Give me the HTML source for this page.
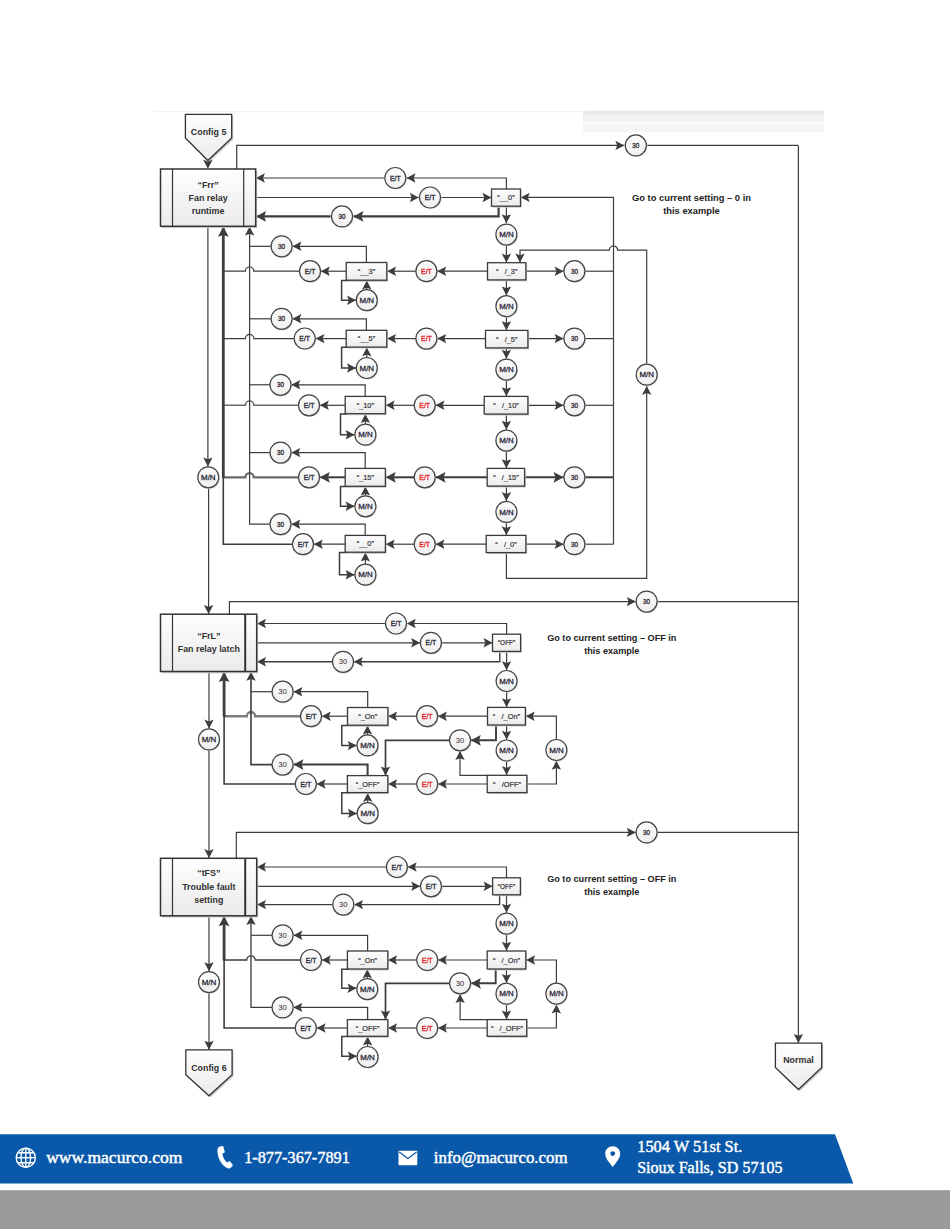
<!DOCTYPE html>
<html><head><meta charset="utf-8"><title>Config flow</title>
<style>
html,body{margin:0;padding:0;background:#fff;}
body{width:950px;height:1229px;overflow:hidden;font-family:"Liberation Sans",sans-serif;}
svg{display:block;font-family:"Liberation Sans",sans-serif;}
</style></head><body>
<svg width="950" height="1229" viewBox="0 0 950 1229">
<defs>
<linearGradient id="gb" x1="0" y1="0" x2="0" y2="1"><stop offset="0" stop-color="#fefefe"/><stop offset="1" stop-color="#ebebeb"/></linearGradient>
<linearGradient id="gc" x1="0" y1="0" x2="0" y2="1"><stop offset="0" stop-color="#fcfcfc"/><stop offset="1" stop-color="#efefef"/></linearGradient>
</defs>
<rect width="950" height="1229" fill="#fff"/>
<rect x="583" y="110.8" width="241" height="21.4" fill="#f5f5f5"/>
<rect x="583" y="110.8" width="241" height="4" fill="#e9e9e9"/>
<rect x="583" y="114.8" width="241" height="7.2" fill="#f3f3f3"/>
<rect x="583" y="122" width="241" height="2.5" fill="#fafafa"/>
<rect x="155" y="111" width="430" height="1.2" fill="#f3f3f3"/>
<path d="M798.4,145.4 L798.4,1043.0" fill="none" stroke="#3d3d3d" stroke-width="1.2" stroke-linejoin="miter"/>
<polygon points="798.4,1043.0 793.7,1034.0 798.4,1035.8 803.1,1034.0" fill="#3d3d3d"/>
<path d="M236.7,169.0 L236.7,145.4 L624.4,145.4" fill="none" stroke="#3d3d3d" stroke-width="1.2" stroke-linejoin="miter"/>
<polygon points="624.4,145.4 615.4,150.1 617.2,145.4 615.4,140.7" fill="#3d3d3d"/>
<path d="M647.2,145.4 L798.4,145.4" fill="none" stroke="#3d3d3d" stroke-width="1.2" stroke-linejoin="miter"/>
<path d="M506.4,189.0 L506.4,178.0 L406.5,178.0" fill="none" stroke="#3d3d3d" stroke-width="1.2" stroke-linejoin="miter"/>
<polygon points="406.5,178.0 415.5,173.3 413.7,178.0 415.5,182.7" fill="#3d3d3d"/>
<path d="M384.3,178.0 L255.9,178.0" fill="none" stroke="#3d3d3d" stroke-width="1.2" stroke-linejoin="miter"/>
<polygon points="255.9,178.0 264.9,173.3 263.1,178.0 264.9,182.7" fill="#3d3d3d"/>
<path d="M255.7,197.5 L418.8,197.5" fill="none" stroke="#3d3d3d" stroke-width="1.2" stroke-linejoin="miter"/>
<polygon points="418.8,197.5 409.8,202.2 411.6,197.5 409.8,192.8" fill="#3d3d3d"/>
<path d="M441.2,197.5 L491.5,197.5" fill="none" stroke="#3d3d3d" stroke-width="1.2" stroke-linejoin="miter"/>
<polygon points="491.5,197.5 482.5,202.2 484.3,197.5 482.5,192.8" fill="#3d3d3d"/>
<path d="M498.6,206.2 L498.6,216.4 L353.4,216.4" fill="none" stroke="#3d3d3d" stroke-width="2.2" stroke-linejoin="miter"/>
<polygon points="353.4,216.4 363.4,211.0 361.6,216.4 363.4,221.8" fill="#3d3d3d"/>
<path d="M330.6,216.4 L256.0,216.4" fill="none" stroke="#3d3d3d" stroke-width="2.2" stroke-linejoin="miter"/>
<polygon points="256.0,216.4 266.0,211.0 264.2,216.4 266.0,221.8" fill="#3d3d3d"/>
<path d="M613.5,544.2 L613.5,197.4 L520.7,197.4" fill="none" stroke="#3d3d3d" stroke-width="1.2" stroke-linejoin="miter"/>
<polygon points="520.7,197.4 529.7,192.7 527.9,197.4 529.7,202.1" fill="#3d3d3d"/>
<path d="M646.7,363.6 L646.7,250.2 L617.7,250.2 A4.2,4.2 0 0 0 609.3,250.2 L520.0,250.2 L520.0,262.5" fill="none" stroke="#3d3d3d" stroke-width="1.2" stroke-linejoin="miter"/>
<polygon points="520.0,262.5 515.3,253.5 520.0,255.3 524.7,253.5" fill="#3d3d3d"/>
<path d="M506.4,552.6 L506.4,578.3 L646.7,578.3 L646.7,385.9" fill="none" stroke="#3d3d3d" stroke-width="1.2" stroke-linejoin="miter"/>
<polygon points="646.7,385.9 651.4,394.9 646.7,393.1 642.0,394.9" fill="#3d3d3d"/>
<path d="M506.4,206.2 L506.4,223.2" fill="none" stroke="#3d3d3d" stroke-width="1.2" stroke-linejoin="miter"/>
<polygon points="506.4,223.2 501.7,214.2 506.4,216.0 511.1,214.2" fill="#3d3d3d"/>
<path d="M506.4,246.0 L506.4,262.6" fill="none" stroke="#3d3d3d" stroke-width="1.2" stroke-linejoin="miter"/>
<polygon points="506.4,262.6 501.7,253.6 506.4,255.4 511.1,253.6" fill="#3d3d3d"/>
<path d="M525.9,271.2 L563.6,271.2" fill="none" stroke="#3d3d3d" stroke-width="1.2" stroke-linejoin="miter"/>
<polygon points="563.6,271.2 554.6,275.9 556.4,271.2 554.6,266.5" fill="#3d3d3d"/>
<path d="M584.9,271.2 L613.5,271.2" fill="none" stroke="#3d3d3d" stroke-width="1.2" stroke-linejoin="miter"/>
<path d="M487.5,271.2 L437.2,271.2" fill="none" stroke="#3d3d3d" stroke-width="1.2" stroke-linejoin="miter"/>
<polygon points="437.2,271.2 446.2,266.5 444.4,271.2 446.2,275.9" fill="#3d3d3d"/>
<path d="M415.9,271.2 L387.1,271.2" fill="none" stroke="#3d3d3d" stroke-width="1.2" stroke-linejoin="miter"/>
<polygon points="387.1,271.2 396.1,266.5 394.3,271.2 396.1,275.9" fill="#3d3d3d"/>
<path d="M346.2,271.2 L320.8,271.2" fill="none" stroke="#3d3d3d" stroke-width="1.2" stroke-linejoin="miter"/>
<polygon points="320.8,271.2 329.8,266.5 328.0,271.2 329.8,275.9" fill="#3d3d3d"/>
<path d="M299.5,271.2 L253.8,271.2 A4.2,4.2 0 0 0 245.4,271.2 L223.3,271.2" fill="none" stroke="#3d3d3d" stroke-width="1.2" stroke-linejoin="miter"/>
<path d="M366.4,262.5 L366.4,246.3 L292.4,246.3" fill="none" stroke="#3d3d3d" stroke-width="1.2" stroke-linejoin="miter"/>
<polygon points="292.4,246.3 301.4,241.6 299.6,246.3 301.4,251.0" fill="#3d3d3d"/>
<path d="M271.1,246.3 L249.6,246.3" fill="none" stroke="#3d3d3d" stroke-width="1.2" stroke-linejoin="miter"/>
<path d="M386.8,280.4 L341.6,280.4 L341.6,300.2 L356.0,300.2" fill="none" stroke="#3d3d3d" stroke-width="1.5" stroke-linejoin="miter"/>
<polygon points="356.0,300.2 347.0,304.9 348.8,300.2 347.0,295.5" fill="#3d3d3d"/>
<path d="M366.8,289.7 L366.8,280.5" fill="none" stroke="#3d3d3d" stroke-width="1.2" stroke-linejoin="miter"/>
<polygon points="366.8,280.5 371.5,289.5 366.8,287.7 362.1,289.5" fill="#3d3d3d"/>
<path d="M527.9,338.6 L563.6,338.6" fill="none" stroke="#3d3d3d" stroke-width="1.2" stroke-linejoin="miter"/>
<polygon points="563.6,338.6 554.6,343.3 556.4,338.6 554.6,333.9" fill="#3d3d3d"/>
<path d="M584.9,338.6 L613.5,338.6" fill="none" stroke="#3d3d3d" stroke-width="1.2" stroke-linejoin="miter"/>
<path d="M485.5,338.6 L437.2,338.6" fill="none" stroke="#3d3d3d" stroke-width="1.2" stroke-linejoin="miter"/>
<polygon points="437.2,338.6 446.2,333.9 444.4,338.6 446.2,343.3" fill="#3d3d3d"/>
<path d="M415.9,338.6 L387.1,338.6" fill="none" stroke="#3d3d3d" stroke-width="1.2" stroke-linejoin="miter"/>
<polygon points="387.1,338.6 396.1,333.9 394.3,338.6 396.1,343.3" fill="#3d3d3d"/>
<path d="M346.2,338.6 L315.5,338.6" fill="none" stroke="#3d3d3d" stroke-width="1.2" stroke-linejoin="miter"/>
<polygon points="315.5,338.6 324.5,333.9 322.7,338.6 324.5,343.3" fill="#3d3d3d"/>
<path d="M294.2,338.6 L253.8,338.6 A4.2,4.2 0 0 0 245.4,338.6 L223.3,338.6" fill="none" stroke="#3d3d3d" stroke-width="1.2" stroke-linejoin="miter"/>
<path d="M366.4,330.3 L366.4,318.8 L292.4,318.8" fill="none" stroke="#3d3d3d" stroke-width="1.2" stroke-linejoin="miter"/>
<polygon points="292.4,318.8 301.4,314.1 299.6,318.8 301.4,323.5" fill="#3d3d3d"/>
<path d="M271.1,318.8 L249.6,318.8" fill="none" stroke="#3d3d3d" stroke-width="1.2" stroke-linejoin="miter"/>
<path d="M386.8,347.3 L341.6,347.3 L341.6,368.0 L356.0,368.0" fill="none" stroke="#3d3d3d" stroke-width="1.5" stroke-linejoin="miter"/>
<polygon points="356.0,368.0 347.0,372.7 348.8,368.0 347.0,363.3" fill="#3d3d3d"/>
<path d="M366.8,357.5 L366.8,347.4" fill="none" stroke="#3d3d3d" stroke-width="1.2" stroke-linejoin="miter"/>
<polygon points="366.8,347.4 371.5,356.4 366.8,354.6 362.1,356.4" fill="#3d3d3d"/>
<path d="M527.9,405.3 L563.6,405.3" fill="none" stroke="#3d3d3d" stroke-width="1.2" stroke-linejoin="miter"/>
<polygon points="563.6,405.3 554.6,410.0 556.4,405.3 554.6,400.6" fill="#3d3d3d"/>
<path d="M584.9,405.3 L613.5,405.3" fill="none" stroke="#3d3d3d" stroke-width="1.2" stroke-linejoin="miter"/>
<path d="M484.2,405.3 L435.5,405.3" fill="none" stroke="#3d3d3d" stroke-width="1.2" stroke-linejoin="miter"/>
<polygon points="435.5,405.3 444.5,400.6 442.7,405.3 444.5,410.0" fill="#3d3d3d"/>
<path d="M414.2,405.3 L385.7,405.3" fill="none" stroke="#3d3d3d" stroke-width="1.2" stroke-linejoin="miter"/>
<polygon points="385.7,405.3 394.7,400.6 392.9,405.3 394.7,410.0" fill="#3d3d3d"/>
<path d="M345.2,405.3 L319.8,405.3" fill="none" stroke="#3d3d3d" stroke-width="1.2" stroke-linejoin="miter"/>
<polygon points="319.8,405.3 328.8,400.6 327.0,405.3 328.8,410.0" fill="#3d3d3d"/>
<path d="M298.5,405.3 L253.8,405.3 A4.2,4.2 0 0 0 245.4,405.3 L223.3,405.3" fill="none" stroke="#6a6a6a" stroke-width="1.5" stroke-linejoin="miter"/>
<path d="M365.2,396.4 L365.2,384.8 L291.3,384.8" fill="none" stroke="#3d3d3d" stroke-width="1.2" stroke-linejoin="miter"/>
<polygon points="291.3,384.8 300.3,380.1 298.5,384.8 300.3,389.5" fill="#3d3d3d"/>
<path d="M270.0,384.8 L249.6,384.8" fill="none" stroke="#3d3d3d" stroke-width="1.2" stroke-linejoin="miter"/>
<path d="M385.4,413.9 L340.5,413.9 L340.5,434.7 L354.6,434.7" fill="none" stroke="#3d3d3d" stroke-width="1.5" stroke-linejoin="miter"/>
<polygon points="354.6,434.7 345.6,439.4 347.4,434.7 345.6,430.0" fill="#3d3d3d"/>
<path d="M365.4,424.2 L365.4,414.0" fill="none" stroke="#3d3d3d" stroke-width="1.2" stroke-linejoin="miter"/>
<polygon points="365.4,414.0 370.1,423.0 365.4,421.2 360.7,423.0" fill="#3d3d3d"/>
<path d="M524.6,477.3 L563.6,477.3" fill="none" stroke="#3d3d3d" stroke-width="2.0" stroke-linejoin="miter"/>
<polygon points="563.6,477.3 553.6,482.7 555.4,477.3 553.6,471.9" fill="#3d3d3d"/>
<path d="M584.9,477.3 L613.5,477.3" fill="none" stroke="#3d3d3d" stroke-width="2.0" stroke-linejoin="miter"/>
<path d="M487.2,477.3 L435.5,477.3" fill="none" stroke="#3d3d3d" stroke-width="2.0" stroke-linejoin="miter"/>
<polygon points="435.5,477.3 445.5,471.9 443.7,477.3 445.5,482.7" fill="#3d3d3d"/>
<path d="M414.2,477.3 L385.7,477.3" fill="none" stroke="#3d3d3d" stroke-width="2.0" stroke-linejoin="miter"/>
<polygon points="385.7,477.3 395.7,471.9 393.9,477.3 395.7,482.7" fill="#3d3d3d"/>
<path d="M345.2,477.3 L319.8,477.3" fill="none" stroke="#3d3d3d" stroke-width="2.0" stroke-linejoin="miter"/>
<polygon points="319.8,477.3 329.8,471.9 328.0,477.3 329.8,482.7" fill="#3d3d3d"/>
<path d="M298.5,477.3 L253.8,477.3 A4.2,4.2 0 0 0 245.4,477.3 L223.3,477.3" fill="none" stroke="#6a6a6a" stroke-width="2.2" stroke-linejoin="miter"/>
<path d="M365.2,468.4 L365.2,452.6 L291.3,452.6" fill="none" stroke="#3d3d3d" stroke-width="1.2" stroke-linejoin="miter"/>
<polygon points="291.3,452.6 300.3,447.9 298.5,452.6 300.3,457.3" fill="#3d3d3d"/>
<path d="M270.0,452.6 L249.6,452.6" fill="none" stroke="#3d3d3d" stroke-width="1.2" stroke-linejoin="miter"/>
<path d="M385.4,486.5 L340.5,486.5 L340.5,506.3 L354.6,506.3" fill="none" stroke="#3d3d3d" stroke-width="1.5" stroke-linejoin="miter"/>
<polygon points="354.6,506.3 345.6,511.0 347.4,506.3 345.6,501.6" fill="#3d3d3d"/>
<path d="M365.4,495.8 L365.4,486.6" fill="none" stroke="#3d3d3d" stroke-width="1.2" stroke-linejoin="miter"/>
<polygon points="365.4,486.6 370.1,495.6 365.4,493.8 360.7,495.6" fill="#3d3d3d"/>
<path d="M525.9,544.2 L563.6,544.2" fill="none" stroke="#3d3d3d" stroke-width="1.2" stroke-linejoin="miter"/>
<polygon points="563.6,544.2 554.6,548.9 556.4,544.2 554.6,539.5" fill="#3d3d3d"/>
<path d="M584.9,544.2 L613.5,544.2" fill="none" stroke="#3d3d3d" stroke-width="1.2" stroke-linejoin="miter"/>
<path d="M486.2,544.2 L435.5,544.2" fill="none" stroke="#3d3d3d" stroke-width="1.2" stroke-linejoin="miter"/>
<polygon points="435.5,544.2 444.5,539.5 442.7,544.2 444.5,548.9" fill="#3d3d3d"/>
<path d="M414.2,544.2 L385.7,544.2" fill="none" stroke="#3d3d3d" stroke-width="1.2" stroke-linejoin="miter"/>
<polygon points="385.7,544.2 394.7,539.5 392.9,544.2 394.7,548.9" fill="#3d3d3d"/>
<path d="M345.2,544.2 L313.8,544.2" fill="none" stroke="#3d3d3d" stroke-width="1.2" stroke-linejoin="miter"/>
<polygon points="313.8,544.2 322.8,539.5 321.0,544.2 322.8,548.9" fill="#3d3d3d"/>
<path d="M365.2,535.4 L365.2,524.2 L291.3,524.2" fill="none" stroke="#3d3d3d" stroke-width="1.2" stroke-linejoin="miter"/>
<polygon points="291.3,524.2 300.3,519.5 298.5,524.2 300.3,528.9" fill="#3d3d3d"/>
<path d="M385.4,552.4 L339.5,552.4 L339.5,574.7 L354.6,574.7" fill="none" stroke="#3d3d3d" stroke-width="1.5" stroke-linejoin="miter"/>
<polygon points="354.6,574.7 345.6,579.4 347.4,574.7 345.6,570.0" fill="#3d3d3d"/>
<path d="M365.4,564.2 L365.4,552.5" fill="none" stroke="#3d3d3d" stroke-width="1.2" stroke-linejoin="miter"/>
<polygon points="365.4,552.5 370.1,561.5 365.4,559.7 360.7,561.5" fill="#3d3d3d"/>
<path d="M506.4,279.9 L506.4,295.4" fill="none" stroke="#3d3d3d" stroke-width="1.2" stroke-linejoin="miter"/>
<polygon points="506.4,295.4 501.7,286.4 506.4,288.2 511.1,286.4" fill="#3d3d3d"/>
<path d="M506.4,316.7 L506.4,330.2" fill="none" stroke="#3d3d3d" stroke-width="1.2" stroke-linejoin="miter"/>
<polygon points="506.4,330.2 501.7,321.2 506.4,323.0 511.1,321.2" fill="#3d3d3d"/>
<path d="M506.4,347.9 L506.4,358.8" fill="none" stroke="#3d3d3d" stroke-width="1.2" stroke-linejoin="miter"/>
<polygon points="506.4,358.8 501.7,349.8 506.4,351.6 511.1,349.8" fill="#3d3d3d"/>
<path d="M506.4,380.1 L506.4,396.2" fill="none" stroke="#3d3d3d" stroke-width="1.2" stroke-linejoin="miter"/>
<polygon points="506.4,396.2 501.7,387.2 506.4,389.0 511.1,387.2" fill="#3d3d3d"/>
<path d="M506.4,414.1 L506.4,429.8" fill="none" stroke="#3d3d3d" stroke-width="1.2" stroke-linejoin="miter"/>
<polygon points="506.4,429.8 501.7,420.8 506.4,422.6 511.1,420.8" fill="#3d3d3d"/>
<path d="M506.4,451.1 L506.4,468.2" fill="none" stroke="#3d3d3d" stroke-width="1.2" stroke-linejoin="miter"/>
<polygon points="506.4,468.2 501.7,459.2 506.4,461.0 511.1,459.2" fill="#3d3d3d"/>
<path d="M506.4,486.1 L506.4,501.1" fill="none" stroke="#3d3d3d" stroke-width="1.2" stroke-linejoin="miter"/>
<polygon points="506.4,501.1 501.7,492.1 506.4,493.9 511.1,492.1" fill="#3d3d3d"/>
<path d="M506.4,522.4 L506.4,535.2" fill="none" stroke="#3d3d3d" stroke-width="1.2" stroke-linejoin="miter"/>
<polygon points="506.4,535.2 501.7,526.2 506.4,528.0 511.1,526.2" fill="#3d3d3d"/>
<path d="M270.0,524.2 L249.6,524.2 L249.6,226.6" fill="none" stroke="#3d3d3d" stroke-width="1.2" stroke-linejoin="miter"/>
<polygon points="249.6,226.6 254.3,235.6 249.6,233.8 244.9,235.6" fill="#3d3d3d"/>
<path d="M292.5,544.2 L223.3,544.2 L223.3,477.3" fill="none" stroke="#3d3d3d" stroke-width="1.6" stroke-linejoin="miter"/>
<path d="M223.3,478.0 L223.3,226.8" fill="none" stroke="#3d3d3d" stroke-width="2.8" stroke-linejoin="miter"/>
<polygon points="223.3,226.8 228.7,236.8 223.3,235.0 217.9,236.8" fill="#3d3d3d"/>
<path d="M207.9,226.3 L207.9,466.5" fill="none" stroke="#3d3d3d" stroke-width="1.2" stroke-linejoin="miter"/>
<polygon points="207.9,466.5 203.2,457.5 207.9,459.3 212.6,457.5" fill="#3d3d3d"/>
<path d="M208.6,487.8 L208.6,614.0" fill="none" stroke="#3d3d3d" stroke-width="1.2" stroke-linejoin="miter"/>
<polygon points="208.6,614.0 203.9,605.0 208.6,606.8 213.3,605.0" fill="#3d3d3d"/>
<path d="M229.4,614.2 L229.4,601.6 L635.8,601.6" fill="none" stroke="#3d3d3d" stroke-width="1.2" stroke-linejoin="miter"/>
<polygon points="635.8,601.6 626.8,606.3 628.6,601.6 626.8,596.9" fill="#3d3d3d"/>
<path d="M657.1,601.6 L798.4,601.6" fill="none" stroke="#3d3d3d" stroke-width="1.2" stroke-linejoin="miter"/>
<path d="M506.6,634.2 L506.6,623.5 L406.8,623.5" fill="none" stroke="#3d3d3d" stroke-width="1.2" stroke-linejoin="miter"/>
<polygon points="406.8,623.5 415.8,618.8 414.0,623.5 415.8,628.2" fill="#3d3d3d"/>
<path d="M385.5,623.5 L257.0,623.5" fill="none" stroke="#3d3d3d" stroke-width="1.2" stroke-linejoin="miter"/>
<polygon points="257.0,623.5 266.0,618.8 264.2,623.5 266.0,628.2" fill="#3d3d3d"/>
<path d="M256.7,642.8 L420.1,642.8" fill="none" stroke="#3d3d3d" stroke-width="1.2" stroke-linejoin="miter"/>
<polygon points="420.1,642.8 411.1,647.5 412.9,642.8 411.1,638.1" fill="#3d3d3d"/>
<path d="M441.4,642.8 L492.5,642.8" fill="none" stroke="#3d3d3d" stroke-width="1.2" stroke-linejoin="miter"/>
<polygon points="492.5,642.8 483.5,647.5 485.3,642.8 483.5,638.1" fill="#3d3d3d"/>
<path d="M499.8,651.4 L499.8,661.8 L353.8,661.8" fill="none" stroke="#3d3d3d" stroke-width="1.4" stroke-linejoin="miter"/>
<polygon points="353.8,661.8 362.8,657.1 361.0,661.8 362.8,666.5" fill="#3d3d3d"/>
<path d="M332.5,661.8 L257.0,661.8" fill="none" stroke="#3d3d3d" stroke-width="1.4" stroke-linejoin="miter"/>
<polygon points="257.0,661.8 266.0,657.1 264.2,661.8 266.0,666.5" fill="#3d3d3d"/>
<path d="M506.6,651.4 L506.6,670.2" fill="none" stroke="#3d3d3d" stroke-width="1.2" stroke-linejoin="miter"/>
<polygon points="506.6,670.2 501.9,661.2 506.6,663.0 511.2,661.2" fill="#3d3d3d"/>
<path d="M506.6,691.5 L506.6,707.2" fill="none" stroke="#3d3d3d" stroke-width="1.2" stroke-linejoin="miter"/>
<polygon points="506.6,707.2 501.9,698.2 506.6,700.0 511.2,698.2" fill="#3d3d3d"/>
<path d="M506.6,725.0 L506.6,739.7" fill="none" stroke="#3d3d3d" stroke-width="1.2" stroke-linejoin="miter"/>
<polygon points="506.6,739.7 501.9,730.7 506.6,732.5 511.2,730.7" fill="#3d3d3d"/>
<path d="M506.6,761.0 L506.6,775.1" fill="none" stroke="#3d3d3d" stroke-width="1.2" stroke-linejoin="miter"/>
<polygon points="506.6,775.1 501.9,766.1 506.6,767.9 511.2,766.1" fill="#3d3d3d"/>
<path d="M526.9,784.0 L556.4,784.0 L556.4,760.8" fill="none" stroke="#3d3d3d" stroke-width="1.2" stroke-linejoin="miter"/>
<polygon points="556.4,760.8 561.1,769.8 556.4,768.0 551.7,769.8" fill="#3d3d3d"/>
<path d="M556.4,739.5 L556.4,716.2 L525.7,716.2" fill="none" stroke="#3d3d3d" stroke-width="1.2" stroke-linejoin="miter"/>
<polygon points="525.7,716.2 534.7,711.5 532.9,716.2 534.7,720.9" fill="#3d3d3d"/>
<path d="M496.0,725.0 L496.0,740.3 L470.8,740.3" fill="none" stroke="#3d3d3d" stroke-width="1.9" stroke-linejoin="miter"/>
<polygon points="470.8,740.3 480.8,734.9 479.0,740.3 480.8,745.7" fill="#3d3d3d"/>
<path d="M487.2,775.3 L460.0,775.3 L460.0,751.1" fill="none" stroke="#3d3d3d" stroke-width="1.2" stroke-linejoin="miter"/>
<polygon points="460.0,751.1 464.7,760.1 460.0,758.3 455.3,760.1" fill="#3d3d3d"/>
<path d="M449.5,740.3 L385.5,740.3 L385.5,775.4" fill="none" stroke="#3d3d3d" stroke-width="1.7" stroke-linejoin="miter"/>
<polygon points="385.5,775.4 380.8,766.4 385.5,768.2 390.2,766.4" fill="#3d3d3d"/>
<path d="M487.5,716.2 L437.9,716.2" fill="none" stroke="#3d3d3d" stroke-width="1.2" stroke-linejoin="miter"/>
<polygon points="437.9,716.2 446.9,711.5 445.1,716.2 446.9,720.9" fill="#3d3d3d"/>
<path d="M416.6,716.2 L388.2,716.2" fill="none" stroke="#3d3d3d" stroke-width="1.2" stroke-linejoin="miter"/>
<polygon points="388.2,716.2 397.2,711.5 395.4,716.2 397.2,720.9" fill="#3d3d3d"/>
<path d="M347.5,716.2 L321.8,716.2" fill="none" stroke="#3d3d3d" stroke-width="1.2" stroke-linejoin="miter"/>
<polygon points="321.8,716.2 330.8,711.5 329.0,716.2 330.8,720.9" fill="#3d3d3d"/>
<path d="M367.7,707.5 L367.7,691.7 L293.4,691.7" fill="none" stroke="#3d3d3d" stroke-width="1.2" stroke-linejoin="miter"/>
<polygon points="293.4,691.7 302.4,687.0 300.6,691.7 302.4,696.4" fill="#3d3d3d"/>
<path d="M300.5,716.2 L255.2,716.2 A4.2,4.2 0 0 0 246.8,716.2 L224.1,716.2" fill="none" stroke="#7d7d7d" stroke-width="2.4" stroke-linejoin="miter"/>
<path d="M272.1,691.7 L251.0,691.7" fill="none" stroke="#3d3d3d" stroke-width="1.2" stroke-linejoin="miter"/>
<path d="M387.9,725.4 L341.8,725.4 L341.8,745.6 L356.7,745.6" fill="none" stroke="#3d3d3d" stroke-width="1.5" stroke-linejoin="miter"/>
<polygon points="356.7,745.6 347.7,750.3 349.5,745.6 347.7,740.9" fill="#3d3d3d"/>
<path d="M367.5,734.9 L367.5,725.5" fill="none" stroke="#3d3d3d" stroke-width="1.2" stroke-linejoin="miter"/>
<polygon points="367.5,725.5 372.2,734.5 367.5,732.7 362.8,734.5" fill="#3d3d3d"/>
<path d="M487.2,784.0 L438.0,784.0" fill="none" stroke="#3d3d3d" stroke-width="1.2" stroke-linejoin="miter"/>
<polygon points="438.0,784.0 447.0,779.2 445.2,784.0 447.0,788.7" fill="#3d3d3d"/>
<path d="M416.7,784.0 L388.1,784.0" fill="none" stroke="#3d3d3d" stroke-width="1.2" stroke-linejoin="miter"/>
<polygon points="388.1,784.0 397.1,779.2 395.3,784.0 397.1,788.7" fill="#3d3d3d"/>
<path d="M347.4,784.0 L316.6,784.0" fill="none" stroke="#3d3d3d" stroke-width="1.2" stroke-linejoin="miter"/>
<polygon points="316.6,784.0 325.6,779.2 323.8,784.0 325.6,788.7" fill="#3d3d3d"/>
<path d="M367.6,775.6 L367.6,764.6 L293.4,764.6" fill="none" stroke="#3d3d3d" stroke-width="2.0" stroke-linejoin="miter"/>
<polygon points="293.4,764.6 303.4,759.2 301.6,764.6 303.4,770.0" fill="#3d3d3d"/>
<path d="M295.3,784.0 L224.1,784.0 L224.1,716.2" fill="none" stroke="#3d3d3d" stroke-width="1.6" stroke-linejoin="miter"/>
<path d="M224.1,716.7 L224.1,672.0" fill="none" stroke="#3d3d3d" stroke-width="2.8" stroke-linejoin="miter"/>
<polygon points="224.1,672.0 229.5,682.0 224.1,680.2 218.7,682.0" fill="#3d3d3d"/>
<path d="M272.1,764.6 L251.0,764.6 L251.0,671.8" fill="none" stroke="#3d3d3d" stroke-width="1.6" stroke-linejoin="miter"/>
<polygon points="251.0,671.8 255.7,680.8 251.0,679.0 246.3,680.8" fill="#3d3d3d"/>
<path d="M387.8,792.8 L341.8,792.8 L341.8,813.4 L356.9,813.4" fill="none" stroke="#3d3d3d" stroke-width="1.5" stroke-linejoin="miter"/>
<polygon points="356.9,813.4 347.9,818.1 349.7,813.4 347.9,808.7" fill="#3d3d3d"/>
<path d="M367.7,802.7 L367.7,792.9" fill="none" stroke="#3d3d3d" stroke-width="1.2" stroke-linejoin="miter"/>
<polygon points="367.7,792.9 372.4,801.9 367.7,800.1 363.0,801.9" fill="#3d3d3d"/>
<path d="M209.0,671.5 L209.0,728.6" fill="none" stroke="#3d3d3d" stroke-width="1.2" stroke-linejoin="miter"/>
<polygon points="209.0,728.6 204.3,719.6 209.0,721.4 213.7,719.6" fill="#3d3d3d"/>
<path d="M209.0,749.9 L209.0,858.1" fill="none" stroke="#3d3d3d" stroke-width="1.2" stroke-linejoin="miter"/>
<polygon points="209.0,858.1 204.3,849.1 209.0,850.9 213.7,849.1" fill="#3d3d3d"/>
<path d="M236.3,858.3 L236.3,832.4 L635.8,832.4" fill="none" stroke="#3d3d3d" stroke-width="1.2" stroke-linejoin="miter"/>
<polygon points="635.8,832.4 626.8,837.1 628.6,832.4 626.8,827.7" fill="#3d3d3d"/>
<path d="M657.1,832.4 L798.4,832.4" fill="none" stroke="#3d3d3d" stroke-width="1.2" stroke-linejoin="miter"/>
<path d="M506.5,877.8 L506.5,867.0 L407.7,867.0" fill="none" stroke="#3d3d3d" stroke-width="1.2" stroke-linejoin="miter"/>
<polygon points="407.7,867.0 416.7,862.3 414.9,867.0 416.7,871.7" fill="#3d3d3d"/>
<path d="M386.4,867.0 L257.0,867.0" fill="none" stroke="#3d3d3d" stroke-width="1.2" stroke-linejoin="miter"/>
<polygon points="257.0,867.0 266.0,862.3 264.2,867.0 266.0,871.7" fill="#3d3d3d"/>
<path d="M256.7,886.3 L420.2,886.3" fill="none" stroke="#3d3d3d" stroke-width="1.2" stroke-linejoin="miter"/>
<polygon points="420.2,886.3 411.2,891.0 413.0,886.3 411.2,881.6" fill="#3d3d3d"/>
<path d="M441.5,886.3 L492.6,886.3" fill="none" stroke="#3d3d3d" stroke-width="1.2" stroke-linejoin="miter"/>
<polygon points="492.6,886.3 483.6,891.0 485.4,886.3 483.6,881.6" fill="#3d3d3d"/>
<path d="M499.6,894.8 L499.6,904.6 L354.1,904.6" fill="none" stroke="#3d3d3d" stroke-width="1.4" stroke-linejoin="miter"/>
<polygon points="354.1,904.6 363.1,899.9 361.3,904.6 363.1,909.3" fill="#3d3d3d"/>
<path d="M332.8,904.6 L257.0,904.6" fill="none" stroke="#3d3d3d" stroke-width="1.4" stroke-linejoin="miter"/>
<polygon points="257.0,904.6 266.0,899.9 264.2,904.6 266.0,909.3" fill="#3d3d3d"/>
<path d="M506.5,894.8 L506.5,912.8" fill="none" stroke="#3d3d3d" stroke-width="1.2" stroke-linejoin="miter"/>
<polygon points="506.5,912.8 501.8,903.8 506.5,905.6 511.2,903.8" fill="#3d3d3d"/>
<path d="M506.5,934.1 L506.5,950.8" fill="none" stroke="#3d3d3d" stroke-width="1.2" stroke-linejoin="miter"/>
<polygon points="506.5,950.8 501.8,941.8 506.5,943.6 511.2,941.8" fill="#3d3d3d"/>
<path d="M506.5,969.0 L506.5,982.9" fill="none" stroke="#3d3d3d" stroke-width="1.2" stroke-linejoin="miter"/>
<polygon points="506.5,982.9 501.8,973.9 506.5,975.7 511.2,973.9" fill="#3d3d3d"/>
<path d="M506.5,1004.2 L506.5,1019.4" fill="none" stroke="#3d3d3d" stroke-width="1.2" stroke-linejoin="miter"/>
<polygon points="506.5,1019.4 501.8,1010.4 506.5,1012.2 511.2,1010.4" fill="#3d3d3d"/>
<path d="M526.7,1028.0 L556.4,1028.0 L556.4,1004.5" fill="none" stroke="#3d3d3d" stroke-width="1.2" stroke-linejoin="miter"/>
<polygon points="556.4,1004.5 561.1,1013.5 556.4,1011.7 551.7,1013.5" fill="#3d3d3d"/>
<path d="M556.4,983.2 L556.4,960.0 L526.1,960.0" fill="none" stroke="#3d3d3d" stroke-width="1.2" stroke-linejoin="miter"/>
<polygon points="526.1,960.0 535.1,955.3 533.3,960.0 535.1,964.7" fill="#3d3d3d"/>
<path d="M495.7,969.0 L495.7,983.3 L470.9,983.3" fill="none" stroke="#3d3d3d" stroke-width="1.9" stroke-linejoin="miter"/>
<polygon points="470.9,983.3 480.9,977.9 479.1,983.3 480.9,988.7" fill="#3d3d3d"/>
<path d="M487.2,1019.6 L460.1,1019.6 L460.1,994.1" fill="none" stroke="#3d3d3d" stroke-width="1.2" stroke-linejoin="miter"/>
<polygon points="460.1,994.1 464.8,1003.1 460.1,1001.3 455.4,1003.1" fill="#3d3d3d"/>
<path d="M449.6,983.3 L385.5,983.3 L385.5,1019.4" fill="none" stroke="#3d3d3d" stroke-width="1.7" stroke-linejoin="miter"/>
<polygon points="385.5,1019.4 380.8,1010.4 385.5,1012.2 390.2,1010.4" fill="#3d3d3d"/>
<path d="M487.2,960.0 L438.0,960.0" fill="none" stroke="#3d3d3d" stroke-width="1.2" stroke-linejoin="miter"/>
<polygon points="438.0,960.0 447.0,955.3 445.2,960.0 447.0,964.7" fill="#3d3d3d"/>
<path d="M416.7,960.0 L388.1,960.0" fill="none" stroke="#3d3d3d" stroke-width="1.2" stroke-linejoin="miter"/>
<polygon points="388.1,960.0 397.1,955.3 395.3,960.0 397.1,964.7" fill="#3d3d3d"/>
<path d="M347.4,960.0 L321.8,960.0" fill="none" stroke="#3d3d3d" stroke-width="1.2" stroke-linejoin="miter"/>
<polygon points="321.8,960.0 330.8,955.3 329.0,960.0 330.8,964.7" fill="#3d3d3d"/>
<path d="M367.6,951.0 L367.6,935.3 L293.4,935.3" fill="none" stroke="#3d3d3d" stroke-width="1.2" stroke-linejoin="miter"/>
<polygon points="293.4,935.3 302.4,930.6 300.6,935.3 302.4,940.0" fill="#3d3d3d"/>
<path d="M300.5,960.0 L255.2,960.0 A4.2,4.2 0 0 0 246.8,960.0 L224.1,960.0" fill="none" stroke="#3d3d3d" stroke-width="1.3" stroke-linejoin="miter"/>
<path d="M272.1,935.3 L251.0,935.3" fill="none" stroke="#3d3d3d" stroke-width="1.2" stroke-linejoin="miter"/>
<path d="M387.8,969.2 L341.8,969.2 L341.8,988.3 L356.5,988.3" fill="none" stroke="#3d3d3d" stroke-width="1.5" stroke-linejoin="miter"/>
<polygon points="356.5,988.3 347.5,993.0 349.3,988.3 347.5,983.6" fill="#3d3d3d"/>
<path d="M367.3,978.6 L367.3,969.3" fill="none" stroke="#3d3d3d" stroke-width="1.2" stroke-linejoin="miter"/>
<polygon points="367.3,969.3 372.0,978.3 367.3,976.5 362.6,978.3" fill="#3d3d3d"/>
<path d="M487.2,1028.0 L438.0,1028.0" fill="none" stroke="#3d3d3d" stroke-width="1.2" stroke-linejoin="miter"/>
<polygon points="438.0,1028.0 447.0,1023.2 445.2,1028.0 447.0,1032.7" fill="#3d3d3d"/>
<path d="M416.7,1028.0 L388.1,1028.0" fill="none" stroke="#3d3d3d" stroke-width="1.2" stroke-linejoin="miter"/>
<polygon points="388.1,1028.0 397.1,1023.2 395.3,1028.0 397.1,1032.7" fill="#3d3d3d"/>
<path d="M347.4,1028.0 L316.6,1028.0" fill="none" stroke="#3d3d3d" stroke-width="1.2" stroke-linejoin="miter"/>
<polygon points="316.6,1028.0 325.6,1023.2 323.8,1028.0 325.6,1032.7" fill="#3d3d3d"/>
<path d="M367.6,1019.6 L367.6,1007.4 L293.4,1007.4" fill="none" stroke="#3d3d3d" stroke-width="1.3" stroke-linejoin="miter"/>
<polygon points="293.4,1007.4 302.4,1002.7 300.6,1007.4 302.4,1012.1" fill="#3d3d3d"/>
<path d="M295.3,1028.0 L224.1,1028.0 L224.1,960.0" fill="none" stroke="#3d3d3d" stroke-width="1.6" stroke-linejoin="miter"/>
<path d="M224.1,960.5 L224.1,916.3" fill="none" stroke="#3d3d3d" stroke-width="2.8" stroke-linejoin="miter"/>
<polygon points="224.1,916.3 229.5,926.3 224.1,924.5 218.7,926.3" fill="#3d3d3d"/>
<path d="M272.1,1007.4 L251.0,1007.4 L251.0,916.1" fill="none" stroke="#3d3d3d" stroke-width="1.3" stroke-linejoin="miter"/>
<polygon points="251.0,916.1 255.7,925.1 251.0,923.3 246.3,925.1" fill="#3d3d3d"/>
<path d="M387.8,1036.5 L341.8,1036.5 L341.8,1056.2 L356.8,1056.2" fill="none" stroke="#3d3d3d" stroke-width="1.5" stroke-linejoin="miter"/>
<polygon points="356.8,1056.2 347.8,1060.9 349.6,1056.2 347.8,1051.5" fill="#3d3d3d"/>
<path d="M367.6,1046.5 L367.6,1036.6" fill="none" stroke="#3d3d3d" stroke-width="1.2" stroke-linejoin="miter"/>
<polygon points="367.6,1036.6 372.3,1045.6 367.6,1043.8 362.9,1045.6" fill="#3d3d3d"/>
<path d="M209.0,915.8 L209.0,971.3" fill="none" stroke="#3d3d3d" stroke-width="1.2" stroke-linejoin="miter"/>
<polygon points="209.0,971.3 204.3,962.3 209.0,964.1 213.7,962.3" fill="#3d3d3d"/>
<path d="M209.0,992.6 L209.0,1049.7" fill="none" stroke="#3d3d3d" stroke-width="1.2" stroke-linejoin="miter"/>
<polygon points="209.0,1049.7 204.3,1040.7 209.0,1042.5 213.7,1040.7" fill="#3d3d3d"/>
<rect x="162.0" y="170.8" width="95.2" height="57.3" fill="#cfcfcf"/>
<rect x="160.5" y="169.0" width="95.2" height="57.3" fill="url(#gb)" stroke="#333" stroke-width="1.5"/>
<line x1="172.5" y1="169.0" x2="172.5" y2="226.3" stroke="#333" stroke-width="1.2"/>
<line x1="243.7" y1="169.0" x2="243.7" y2="226.3" stroke="#333" stroke-width="1.2"/>
<text x="208.1" y="188.3" font-size="8.9" font-weight="bold" fill="#303030" text-anchor="middle">&#8220;Frr&#8221;</text>
<text x="208.1" y="201.2" font-size="8.9" font-weight="bold" fill="#303030" text-anchor="middle">Fan relay</text>
<text x="208.1" y="214.0" font-size="8.9" font-weight="bold" fill="#303030" text-anchor="middle">runtime</text>
<rect x="162.0" y="616.0" width="96.2" height="57.3" fill="#cfcfcf"/>
<rect x="160.5" y="614.2" width="96.2" height="57.3" fill="url(#gb)" stroke="#333" stroke-width="1.5"/>
<line x1="172.5" y1="614.2" x2="172.5" y2="671.5" stroke="#333" stroke-width="1.2"/>
<line x1="245.2" y1="614.2" x2="245.2" y2="671.5" stroke="#333" stroke-width="2"/>
<text x="208.8" y="638.6" font-size="8.9" font-weight="bold" fill="#303030" text-anchor="middle">&#8220;FrL&#8221;</text>
<text x="208.8" y="651.8" font-size="8.9" font-weight="bold" fill="#303030" text-anchor="middle">Fan relay latch</text>
<rect x="162.0" y="860.1" width="96.2" height="57.5" fill="#cfcfcf"/>
<rect x="160.5" y="858.3" width="96.2" height="57.5" fill="url(#gb)" stroke="#333" stroke-width="1.5"/>
<line x1="172.5" y1="858.3" x2="172.5" y2="915.8" stroke="#333" stroke-width="1.2"/>
<line x1="245.2" y1="858.3" x2="245.2" y2="915.8" stroke="#333" stroke-width="2"/>
<text x="208.8" y="876.2" font-size="8.9" font-weight="bold" fill="#303030" text-anchor="middle">&#8220;tFS&#8221;</text>
<text x="208.8" y="889.6" font-size="8.9" font-weight="bold" fill="#303030" text-anchor="middle">Trouble fault</text>
<text x="208.8" y="902.6" font-size="8.9" font-weight="bold" fill="#303030" text-anchor="middle">setting</text>
<polygon points="185.4,114.3 231.7,114.3 231.7,137.9 207.9,160.5 185.4,137.9" fill="#cfcfcf" transform="translate(1.5,1.8)"/>
<polygon points="185.4,114.3 231.7,114.3 231.7,137.9 207.9,160.5 185.4,137.9" fill="url(#gb)" stroke="#333" stroke-width="1.3"/>
<text x="208.6" y="134.9" font-size="8.9" font-weight="bold" fill="#303030" text-anchor="middle">Config 5</text>
<polygon points="207.9,168.8 203.2,159.8 207.9,161.6 212.6,159.8" fill="#3d3d3d"/>
<polygon points="185.8,1049.9 232.1,1049.9 232.1,1074.7 209,1095.8 185.8,1074.7" fill="#cfcfcf" transform="translate(1.5,1.8)"/>
<polygon points="185.8,1049.9 232.1,1049.9 232.1,1074.7 209,1095.8 185.8,1074.7" fill="url(#gb)" stroke="#333" stroke-width="1.3"/>
<text x="208.9" y="1070.5" font-size="8.9" font-weight="bold" fill="#303030" text-anchor="middle">Config 6</text>
<polygon points="775.4,1043.2 821.7,1043.2 821.7,1067.4 798.4,1089.5 775.4,1067.4" fill="#cfcfcf" transform="translate(1.5,1.8)"/>
<polygon points="775.4,1043.2 821.7,1043.2 821.7,1067.4 798.4,1089.5 775.4,1067.4" fill="url(#gb)" stroke="#333" stroke-width="1.3"/>
<text x="798.5" y="1063.2" font-size="8.9" font-weight="bold" fill="#303030" text-anchor="middle">Normal</text>
<rect x="488.7" y="264.2" width="38.4" height="17.2" fill="#cfcfcf"/>
<rect x="487.5" y="262.7" width="38.4" height="17.2" fill="url(#gb)" stroke="#3a3a3a" stroke-width="1.3"/>
<text x="506.7" y="273.8" font-size="7.4" fill="#35353b" stroke="#35353b" stroke-width="0.2" text-anchor="middle" style="white-space:pre">&#8220;   /_3&#8221;</text>
<rect x="347.4" y="264.0" width="40.6" height="17.7" fill="#cfcfcf"/>
<rect x="346.2" y="262.5" width="40.6" height="17.7" fill="url(#gb)" stroke="#3a3a3a" stroke-width="1.3"/>
<text x="366.5" y="273.9" font-size="7.4" fill="#35353b" stroke="#35353b" stroke-width="0.2" text-anchor="middle" style="white-space:pre">&#8220;__3&#8221;</text>
<rect x="486.7" y="331.9" width="42.4" height="17.5" fill="#cfcfcf"/>
<rect x="485.5" y="330.4" width="42.4" height="17.5" fill="url(#gb)" stroke="#3a3a3a" stroke-width="1.3"/>
<text x="506.7" y="341.6" font-size="7.4" fill="#35353b" stroke="#35353b" stroke-width="0.2" text-anchor="middle" style="white-space:pre">&#8220;   /_5&#8221;</text>
<rect x="347.4" y="331.8" width="40.6" height="16.8" fill="#cfcfcf"/>
<rect x="346.2" y="330.3" width="40.6" height="16.8" fill="url(#gb)" stroke="#3a3a3a" stroke-width="1.3"/>
<text x="366.5" y="341.2" font-size="7.4" fill="#35353b" stroke="#35353b" stroke-width="0.2" text-anchor="middle" style="white-space:pre">&#8220;__5&#8221;</text>
<rect x="485.4" y="397.9" width="43.7" height="17.7" fill="#cfcfcf"/>
<rect x="484.2" y="396.4" width="43.7" height="17.7" fill="url(#gb)" stroke="#3a3a3a" stroke-width="1.3"/>
<text x="506.0" y="407.8" font-size="7.4" fill="#35353b" stroke="#35353b" stroke-width="0.2" text-anchor="middle" style="white-space:pre">&#8220;   /_10&#8221;</text>
<rect x="346.4" y="397.9" width="40.2" height="17.3" fill="#cfcfcf"/>
<rect x="345.2" y="396.4" width="40.2" height="17.3" fill="url(#gb)" stroke="#3a3a3a" stroke-width="1.3"/>
<text x="365.3" y="407.5" font-size="7.4" fill="#35353b" stroke="#35353b" stroke-width="0.2" text-anchor="middle" style="white-space:pre">&#8220;_10&#8221;</text>
<rect x="488.4" y="469.9" width="37.4" height="17.7" fill="#cfcfcf"/>
<rect x="487.2" y="468.4" width="37.4" height="17.7" fill="url(#gb)" stroke="#3a3a3a" stroke-width="1.3"/>
<text x="505.9" y="479.8" font-size="7.4" fill="#35353b" stroke="#35353b" stroke-width="0.2" text-anchor="middle" style="white-space:pre">&#8220;   /_15&#8221;</text>
<rect x="346.4" y="469.9" width="40.2" height="17.9" fill="#cfcfcf"/>
<rect x="345.2" y="468.4" width="40.2" height="17.9" fill="url(#gb)" stroke="#3a3a3a" stroke-width="1.3"/>
<text x="365.3" y="479.9" font-size="7.4" fill="#35353b" stroke="#35353b" stroke-width="0.2" text-anchor="middle" style="white-space:pre">&#8220;_15&#8221;</text>
<rect x="487.4" y="536.9" width="39.7" height="17.2" fill="#cfcfcf"/>
<rect x="486.2" y="535.4" width="39.7" height="17.2" fill="url(#gb)" stroke="#3a3a3a" stroke-width="1.3"/>
<text x="506.0" y="546.5" font-size="7.4" fill="#35353b" stroke="#35353b" stroke-width="0.2" text-anchor="middle" style="white-space:pre">&#8220;   /_0&#8221;</text>
<rect x="346.4" y="536.9" width="40.2" height="16.8" fill="#cfcfcf"/>
<rect x="345.2" y="535.4" width="40.2" height="16.8" fill="url(#gb)" stroke="#3a3a3a" stroke-width="1.3"/>
<text x="365.3" y="546.3" font-size="7.4" fill="#35353b" stroke="#35353b" stroke-width="0.2" text-anchor="middle" style="white-space:pre">&#8220;__0&#8221;</text>
<rect x="492.7" y="190.5" width="29.0" height="17.2" fill="#cfcfcf"/>
<rect x="491.5" y="189.0" width="29.0" height="17.2" fill="url(#gb)" stroke="#3a3a3a" stroke-width="1.3"/>
<text x="506.0" y="200.1" font-size="7.4" fill="#35353b" stroke="#35353b" stroke-width="0.2" text-anchor="middle" style="white-space:pre">&#8220;__0&#8221;</text>
<rect x="493.7" y="635.7" width="28.1" height="17.2" fill="#cfcfcf"/>
<rect x="492.5" y="634.2" width="28.1" height="17.2" fill="url(#gb)" stroke="#3a3a3a" stroke-width="1.3"/>
<text x="506.6" y="645.3" font-size="6.5" fill="#35353b" stroke="#35353b" stroke-width="0.2" text-anchor="middle" style="white-space:pre">&#8220;OFF&#8221;</text>
<rect x="488.7" y="708.9" width="37.9" height="17.6" fill="#cfcfcf"/>
<rect x="487.5" y="707.4" width="37.9" height="17.6" fill="url(#gb)" stroke="#3a3a3a" stroke-width="1.3"/>
<text x="506.4" y="718.7" font-size="7.4" fill="#35353b" stroke="#35353b" stroke-width="0.2" text-anchor="middle" style="white-space:pre">&#8220;   /_On&#8221;</text>
<rect x="488.4" y="776.8" width="39.7" height="17.3" fill="#cfcfcf"/>
<rect x="487.2" y="775.3" width="39.7" height="17.3" fill="url(#gb)" stroke="#3a3a3a" stroke-width="1.3"/>
<text x="507.0" y="786.5" font-size="7.4" fill="#35353b" stroke="#35353b" stroke-width="0.2" text-anchor="middle" style="white-space:pre">&#8220;   /OFF&#8221;</text>
<rect x="348.7" y="709.0" width="40.4" height="17.7" fill="#cfcfcf"/>
<rect x="347.5" y="707.5" width="40.4" height="17.7" fill="url(#gb)" stroke="#3a3a3a" stroke-width="1.3"/>
<text x="367.7" y="718.9" font-size="7.4" fill="#35353b" stroke="#35353b" stroke-width="0.2" text-anchor="middle" style="white-space:pre">&#8220;_On&#8221;</text>
<rect x="348.6" y="777.1" width="40.4" height="17.0" fill="#cfcfcf"/>
<rect x="347.4" y="775.6" width="40.4" height="17.0" fill="url(#gb)" stroke="#3a3a3a" stroke-width="1.3"/>
<text x="367.6" y="786.6" font-size="7.4" fill="#35353b" stroke="#35353b" stroke-width="0.2" text-anchor="middle" style="white-space:pre">&#8220;_OFF&#8221;</text>
<rect x="493.8" y="879.3" width="27.8" height="17.0" fill="#cfcfcf"/>
<rect x="492.6" y="877.8" width="27.8" height="17.0" fill="url(#gb)" stroke="#3a3a3a" stroke-width="1.3"/>
<text x="506.5" y="888.8" font-size="6.5" fill="#35353b" stroke="#35353b" stroke-width="0.2" text-anchor="middle" style="white-space:pre">&#8220;OFF&#8221;</text>
<rect x="488.4" y="952.5" width="38.6" height="18.0" fill="#cfcfcf"/>
<rect x="487.2" y="951.0" width="38.6" height="18.0" fill="url(#gb)" stroke="#3a3a3a" stroke-width="1.3"/>
<text x="506.5" y="962.5" font-size="7.4" fill="#35353b" stroke="#35353b" stroke-width="0.2" text-anchor="middle" style="white-space:pre">&#8220;   /_On&#8221;</text>
<rect x="488.4" y="1021.1" width="39.5" height="16.7" fill="#cfcfcf"/>
<rect x="487.2" y="1019.6" width="39.5" height="16.7" fill="url(#gb)" stroke="#3a3a3a" stroke-width="1.3"/>
<text x="507.0" y="1030.5" font-size="7.4" fill="#35353b" stroke="#35353b" stroke-width="0.2" text-anchor="middle" style="white-space:pre">&#8220;   /_OFF&#8221;</text>
<rect x="348.6" y="952.5" width="40.4" height="18.0" fill="#cfcfcf"/>
<rect x="347.4" y="951.0" width="40.4" height="18.0" fill="url(#gb)" stroke="#3a3a3a" stroke-width="1.3"/>
<text x="367.6" y="962.5" font-size="7.4" fill="#35353b" stroke="#35353b" stroke-width="0.2" text-anchor="middle" style="white-space:pre">&#8220;_On&#8221;</text>
<rect x="348.6" y="1021.1" width="40.4" height="16.7" fill="#cfcfcf"/>
<rect x="347.4" y="1019.6" width="40.4" height="16.7" fill="url(#gb)" stroke="#3a3a3a" stroke-width="1.3"/>
<text x="367.6" y="1030.5" font-size="7.4" fill="#35353b" stroke="#35353b" stroke-width="0.2" text-anchor="middle" style="white-space:pre">&#8220;_OFF&#8221;</text>
<circle cx="575.4" cy="272.4" r="10.5" fill="#d9d9d9"/>
<circle cx="574.4" cy="271.2" r="10.5" fill="url(#gc)" stroke="#454545" stroke-width="1.2"/>
<text x="574.4" y="273.8" font-size="6.3" fill="#3a3236" stroke="#3a3236" stroke-width="0.32" text-anchor="middle">30</text>
<circle cx="427.4" cy="272.4" r="10.5" fill="#d9d9d9"/>
<circle cx="426.4" cy="271.2" r="10.5" fill="url(#gc)" stroke="#454545" stroke-width="1.2"/>
<text x="426.4" y="273.8" font-size="6.9" fill="#e8202a" stroke="#e8202a" stroke-width="0.32" text-anchor="middle">E/T</text>
<circle cx="311.0" cy="272.4" r="10.5" fill="#d9d9d9"/>
<circle cx="310.0" cy="271.2" r="10.5" fill="url(#gc)" stroke="#454545" stroke-width="1.2"/>
<text x="310.0" y="273.8" font-size="6.9" fill="#2b2b3a" stroke="#2b2b3a" stroke-width="0.32" text-anchor="middle">E/T</text>
<circle cx="282.6" cy="247.5" r="10.5" fill="#d9d9d9"/>
<circle cx="281.6" cy="246.3" r="10.5" fill="url(#gc)" stroke="#454545" stroke-width="1.2"/>
<text x="281.6" y="248.9" font-size="6.3" fill="#3a3236" stroke="#3a3236" stroke-width="0.32" text-anchor="middle">30</text>
<circle cx="367.8" cy="301.4" r="10.5" fill="#d9d9d9"/>
<circle cx="366.8" cy="300.2" r="10.5" fill="url(#gc)" stroke="#454545" stroke-width="1.2"/>
<text x="366.8" y="302.8" font-size="7.9" fill="#2b2b3a" stroke="#2b2b3a" stroke-width="0.32" text-anchor="middle">M/N</text>
<circle cx="575.4" cy="339.8" r="10.5" fill="#d9d9d9"/>
<circle cx="574.4" cy="338.6" r="10.5" fill="url(#gc)" stroke="#454545" stroke-width="1.2"/>
<text x="574.4" y="341.2" font-size="6.3" fill="#3a3236" stroke="#3a3236" stroke-width="0.32" text-anchor="middle">30</text>
<circle cx="427.4" cy="339.8" r="10.5" fill="#d9d9d9"/>
<circle cx="426.4" cy="338.6" r="10.5" fill="url(#gc)" stroke="#454545" stroke-width="1.2"/>
<text x="426.4" y="341.2" font-size="6.9" fill="#e8202a" stroke="#e8202a" stroke-width="0.32" text-anchor="middle">E/T</text>
<circle cx="305.7" cy="339.7" r="10.5" fill="#d9d9d9"/>
<circle cx="304.7" cy="338.5" r="10.5" fill="url(#gc)" stroke="#454545" stroke-width="1.2"/>
<text x="304.7" y="341.1" font-size="6.9" fill="#2b2b3a" stroke="#2b2b3a" stroke-width="0.32" text-anchor="middle">E/T</text>
<circle cx="282.6" cy="320.0" r="10.5" fill="#d9d9d9"/>
<circle cx="281.6" cy="318.8" r="10.5" fill="url(#gc)" stroke="#454545" stroke-width="1.2"/>
<text x="281.6" y="321.4" font-size="6.3" fill="#3a3236" stroke="#3a3236" stroke-width="0.32" text-anchor="middle">30</text>
<circle cx="367.8" cy="369.2" r="10.5" fill="#d9d9d9"/>
<circle cx="366.8" cy="368.0" r="10.5" fill="url(#gc)" stroke="#454545" stroke-width="1.2"/>
<text x="366.8" y="370.6" font-size="7.9" fill="#2b2b3a" stroke="#2b2b3a" stroke-width="0.32" text-anchor="middle">M/N</text>
<circle cx="575.4" cy="406.5" r="10.5" fill="#d9d9d9"/>
<circle cx="574.4" cy="405.3" r="10.5" fill="url(#gc)" stroke="#454545" stroke-width="1.2"/>
<text x="574.4" y="407.9" font-size="6.3" fill="#3a3236" stroke="#3a3236" stroke-width="0.32" text-anchor="middle">30</text>
<circle cx="425.7" cy="406.5" r="10.5" fill="#d9d9d9"/>
<circle cx="424.7" cy="405.3" r="10.5" fill="url(#gc)" stroke="#454545" stroke-width="1.2"/>
<text x="424.7" y="407.9" font-size="6.9" fill="#e8202a" stroke="#e8202a" stroke-width="0.32" text-anchor="middle">E/T</text>
<circle cx="310.0" cy="406.5" r="10.5" fill="#d9d9d9"/>
<circle cx="309.0" cy="405.3" r="10.5" fill="url(#gc)" stroke="#454545" stroke-width="1.2"/>
<text x="309.0" y="407.9" font-size="6.9" fill="#2b2b3a" stroke="#2b2b3a" stroke-width="0.32" text-anchor="middle">E/T</text>
<circle cx="281.5" cy="386.0" r="10.5" fill="#d9d9d9"/>
<circle cx="280.5" cy="384.8" r="10.5" fill="url(#gc)" stroke="#454545" stroke-width="1.2"/>
<text x="280.5" y="387.4" font-size="6.3" fill="#3a3236" stroke="#3a3236" stroke-width="0.32" text-anchor="middle">30</text>
<circle cx="366.4" cy="435.9" r="10.5" fill="#d9d9d9"/>
<circle cx="365.4" cy="434.7" r="10.5" fill="url(#gc)" stroke="#454545" stroke-width="1.2"/>
<text x="365.4" y="437.3" font-size="7.9" fill="#2b2b3a" stroke="#2b2b3a" stroke-width="0.32" text-anchor="middle">M/N</text>
<circle cx="575.4" cy="478.5" r="10.5" fill="#d9d9d9"/>
<circle cx="574.4" cy="477.3" r="10.5" fill="url(#gc)" stroke="#454545" stroke-width="1.2"/>
<text x="574.4" y="479.9" font-size="6.3" fill="#3a3236" stroke="#3a3236" stroke-width="0.32" text-anchor="middle">30</text>
<circle cx="425.7" cy="478.5" r="10.5" fill="#d9d9d9"/>
<circle cx="424.7" cy="477.3" r="10.5" fill="url(#gc)" stroke="#454545" stroke-width="1.2"/>
<text x="424.7" y="479.9" font-size="6.9" fill="#e8202a" stroke="#e8202a" stroke-width="0.32" text-anchor="middle">E/T</text>
<circle cx="310.0" cy="478.5" r="10.5" fill="#d9d9d9"/>
<circle cx="309.0" cy="477.3" r="10.5" fill="url(#gc)" stroke="#454545" stroke-width="1.2"/>
<text x="309.0" y="479.9" font-size="6.9" fill="#2b2b3a" stroke="#2b2b3a" stroke-width="0.32" text-anchor="middle">E/T</text>
<circle cx="281.5" cy="453.8" r="10.5" fill="#d9d9d9"/>
<circle cx="280.5" cy="452.6" r="10.5" fill="url(#gc)" stroke="#454545" stroke-width="1.2"/>
<text x="280.5" y="455.2" font-size="6.3" fill="#3a3236" stroke="#3a3236" stroke-width="0.32" text-anchor="middle">30</text>
<circle cx="366.4" cy="507.5" r="10.5" fill="#d9d9d9"/>
<circle cx="365.4" cy="506.3" r="10.5" fill="url(#gc)" stroke="#454545" stroke-width="1.2"/>
<text x="365.4" y="508.9" font-size="7.9" fill="#2b2b3a" stroke="#2b2b3a" stroke-width="0.32" text-anchor="middle">M/N</text>
<circle cx="575.4" cy="545.4" r="10.5" fill="#d9d9d9"/>
<circle cx="574.4" cy="544.2" r="10.5" fill="url(#gc)" stroke="#454545" stroke-width="1.2"/>
<text x="574.4" y="546.8" font-size="6.3" fill="#3a3236" stroke="#3a3236" stroke-width="0.32" text-anchor="middle">30</text>
<circle cx="425.7" cy="545.4" r="10.5" fill="#d9d9d9"/>
<circle cx="424.7" cy="544.2" r="10.5" fill="url(#gc)" stroke="#454545" stroke-width="1.2"/>
<text x="424.7" y="546.8" font-size="6.9" fill="#e8202a" stroke="#e8202a" stroke-width="0.32" text-anchor="middle">E/T</text>
<circle cx="304.0" cy="545.4" r="10.5" fill="#d9d9d9"/>
<circle cx="303.0" cy="544.2" r="10.5" fill="url(#gc)" stroke="#454545" stroke-width="1.2"/>
<text x="303.0" y="546.8" font-size="6.9" fill="#2b2b3a" stroke="#2b2b3a" stroke-width="0.32" text-anchor="middle">E/T</text>
<circle cx="281.5" cy="525.4" r="10.5" fill="#d9d9d9"/>
<circle cx="280.5" cy="524.2" r="10.5" fill="url(#gc)" stroke="#454545" stroke-width="1.2"/>
<text x="280.5" y="526.8" font-size="6.3" fill="#3a3236" stroke="#3a3236" stroke-width="0.32" text-anchor="middle">30</text>
<circle cx="366.4" cy="575.9" r="10.5" fill="#d9d9d9"/>
<circle cx="365.4" cy="574.7" r="10.5" fill="url(#gc)" stroke="#454545" stroke-width="1.2"/>
<text x="365.4" y="577.3" font-size="7.9" fill="#2b2b3a" stroke="#2b2b3a" stroke-width="0.32" text-anchor="middle">M/N</text>
<circle cx="507.4" cy="307.4" r="10.5" fill="#d9d9d9"/>
<circle cx="506.4" cy="306.2" r="10.5" fill="url(#gc)" stroke="#454545" stroke-width="1.2"/>
<text x="506.4" y="308.8" font-size="7.9" fill="#2b2b3a" stroke="#2b2b3a" stroke-width="0.32" text-anchor="middle">M/N</text>
<circle cx="507.4" cy="370.8" r="10.5" fill="#d9d9d9"/>
<circle cx="506.4" cy="369.6" r="10.5" fill="url(#gc)" stroke="#454545" stroke-width="1.2"/>
<text x="506.4" y="372.2" font-size="7.9" fill="#2b2b3a" stroke="#2b2b3a" stroke-width="0.32" text-anchor="middle">M/N</text>
<circle cx="507.4" cy="441.8" r="10.5" fill="#d9d9d9"/>
<circle cx="506.4" cy="440.6" r="10.5" fill="url(#gc)" stroke="#454545" stroke-width="1.2"/>
<text x="506.4" y="443.2" font-size="7.9" fill="#2b2b3a" stroke="#2b2b3a" stroke-width="0.32" text-anchor="middle">M/N</text>
<circle cx="507.4" cy="513.1" r="10.5" fill="#d9d9d9"/>
<circle cx="506.4" cy="511.9" r="10.5" fill="url(#gc)" stroke="#454545" stroke-width="1.2"/>
<text x="506.4" y="514.5" font-size="7.9" fill="#2b2b3a" stroke="#2b2b3a" stroke-width="0.32" text-anchor="middle">M/N</text>
<circle cx="636.8" cy="146.6" r="10.5" fill="#d9d9d9"/>
<circle cx="635.8" cy="145.4" r="10.5" fill="url(#gc)" stroke="#454545" stroke-width="1.2"/>
<text x="635.8" y="148.0" font-size="6.3" fill="#3a3236" stroke="#3a3236" stroke-width="0.32" text-anchor="middle">30</text>
<circle cx="396.3" cy="179.2" r="10.5" fill="#d9d9d9"/>
<circle cx="395.3" cy="178.0" r="10.5" fill="url(#gc)" stroke="#454545" stroke-width="1.2"/>
<text x="395.3" y="180.6" font-size="6.9" fill="#2b2b3a" stroke="#2b2b3a" stroke-width="0.32" text-anchor="middle">E/T</text>
<circle cx="431.0" cy="198.7" r="10.5" fill="#d9d9d9"/>
<circle cx="430.0" cy="197.5" r="10.5" fill="url(#gc)" stroke="#454545" stroke-width="1.2"/>
<text x="430.0" y="200.1" font-size="6.9" fill="#2b2b3a" stroke="#2b2b3a" stroke-width="0.32" text-anchor="middle">E/T</text>
<circle cx="343.0" cy="217.6" r="10.5" fill="#d9d9d9"/>
<circle cx="342.0" cy="216.4" r="10.5" fill="url(#gc)" stroke="#454545" stroke-width="1.2"/>
<text x="342.0" y="219.0" font-size="6.3" fill="#3a3236" stroke="#3a3236" stroke-width="0.32" text-anchor="middle">30</text>
<circle cx="507.4" cy="235.8" r="10.5" fill="#d9d9d9"/>
<circle cx="506.4" cy="234.6" r="10.5" fill="url(#gc)" stroke="#454545" stroke-width="1.2"/>
<text x="506.4" y="237.2" font-size="7.9" fill="#2b2b3a" stroke="#2b2b3a" stroke-width="0.32" text-anchor="middle">M/N</text>
<circle cx="647.7" cy="375.9" r="10.5" fill="#d9d9d9"/>
<circle cx="646.7" cy="374.7" r="10.5" fill="url(#gc)" stroke="#454545" stroke-width="1.2"/>
<text x="646.7" y="377.3" font-size="7.9" fill="#2b2b3a" stroke="#2b2b3a" stroke-width="0.32" text-anchor="middle">M/N</text>
<circle cx="209.3" cy="478.5" r="10.5" fill="#d9d9d9"/>
<circle cx="208.3" cy="477.3" r="10.5" fill="url(#gc)" stroke="#454545" stroke-width="1.2"/>
<text x="208.3" y="479.9" font-size="7.9" fill="#2b2b3a" stroke="#2b2b3a" stroke-width="0.32" text-anchor="middle">M/N</text>
<circle cx="428.1" cy="717.4" r="10.5" fill="#d9d9d9"/>
<circle cx="427.1" cy="716.2" r="10.5" fill="url(#gc)" stroke="#454545" stroke-width="1.2"/>
<text x="427.1" y="718.8" font-size="6.9" fill="#e8202a" stroke="#e8202a" stroke-width="0.32" text-anchor="middle">E/T</text>
<circle cx="312.0" cy="717.4" r="10.5" fill="#d9d9d9"/>
<circle cx="311.0" cy="716.2" r="10.5" fill="url(#gc)" stroke="#454545" stroke-width="1.2"/>
<text x="311.0" y="718.8" font-size="6.9" fill="#2b2b3a" stroke="#2b2b3a" stroke-width="0.32" text-anchor="middle">E/T</text>
<circle cx="283.6" cy="692.9" r="10.5" fill="#d9d9d9"/>
<circle cx="282.6" cy="691.7" r="10.5" fill="url(#gc)" stroke="#454545" stroke-width="1.2"/>
<text x="282.6" y="694.3" font-size="7.6" fill="#33282c" stroke="#33282c" stroke-width="0" text-anchor="middle">30</text>
<circle cx="368.5" cy="746.6" r="10.5" fill="#d9d9d9"/>
<circle cx="367.5" cy="745.4" r="10.5" fill="url(#gc)" stroke="#454545" stroke-width="1.2"/>
<text x="367.5" y="748.0" font-size="7.9" fill="#2b2b3a" stroke="#2b2b3a" stroke-width="0.32" text-anchor="middle">M/N</text>
<circle cx="428.2" cy="785.2" r="10.5" fill="#d9d9d9"/>
<circle cx="427.2" cy="784.0" r="10.5" fill="url(#gc)" stroke="#454545" stroke-width="1.2"/>
<text x="427.2" y="786.6" font-size="6.9" fill="#e8202a" stroke="#e8202a" stroke-width="0.32" text-anchor="middle">E/T</text>
<circle cx="306.8" cy="785.2" r="10.5" fill="#d9d9d9"/>
<circle cx="305.8" cy="784.0" r="10.5" fill="url(#gc)" stroke="#454545" stroke-width="1.2"/>
<text x="305.8" y="786.6" font-size="6.9" fill="#2b2b3a" stroke="#2b2b3a" stroke-width="0.32" text-anchor="middle">E/T</text>
<circle cx="283.6" cy="765.8" r="10.5" fill="#d9d9d9"/>
<circle cx="282.6" cy="764.6" r="10.5" fill="url(#gc)" stroke="#454545" stroke-width="1.2"/>
<text x="282.6" y="767.2" font-size="7.6" fill="#33282c" stroke="#33282c" stroke-width="0" text-anchor="middle">30</text>
<circle cx="368.7" cy="814.4" r="10.5" fill="#d9d9d9"/>
<circle cx="367.7" cy="813.2" r="10.5" fill="url(#gc)" stroke="#454545" stroke-width="1.2"/>
<text x="367.7" y="815.8" font-size="7.9" fill="#2b2b3a" stroke="#2b2b3a" stroke-width="0.32" text-anchor="middle">M/N</text>
<circle cx="647.6" cy="602.8" r="10.5" fill="#d9d9d9"/>
<circle cx="646.6" cy="601.6" r="10.5" fill="url(#gc)" stroke="#454545" stroke-width="1.2"/>
<text x="646.6" y="604.2" font-size="6.3" fill="#3a3236" stroke="#3a3236" stroke-width="0.32" text-anchor="middle">30</text>
<circle cx="397.0" cy="624.7" r="10.5" fill="#d9d9d9"/>
<circle cx="396.0" cy="623.5" r="10.5" fill="url(#gc)" stroke="#454545" stroke-width="1.2"/>
<text x="396.0" y="626.1" font-size="6.9" fill="#2b2b3a" stroke="#2b2b3a" stroke-width="0.32" text-anchor="middle">E/T</text>
<circle cx="431.9" cy="644.0" r="10.5" fill="#d9d9d9"/>
<circle cx="430.9" cy="642.8" r="10.5" fill="url(#gc)" stroke="#454545" stroke-width="1.2"/>
<text x="430.9" y="645.4" font-size="6.9" fill="#2b2b3a" stroke="#2b2b3a" stroke-width="0.32" text-anchor="middle">E/T</text>
<circle cx="344.0" cy="663.0" r="10.5" fill="#d9d9d9"/>
<circle cx="343.0" cy="661.8" r="10.5" fill="url(#gc)" stroke="#454545" stroke-width="1.2"/>
<text x="343.0" y="664.4" font-size="7.6" fill="#33282c" stroke="#33282c" stroke-width="0" text-anchor="middle">30</text>
<circle cx="507.6" cy="682.2" r="10.5" fill="#d9d9d9"/>
<circle cx="506.6" cy="681.0" r="10.5" fill="url(#gc)" stroke="#454545" stroke-width="1.2"/>
<text x="506.6" y="683.6" font-size="7.9" fill="#2b2b3a" stroke="#2b2b3a" stroke-width="0.32" text-anchor="middle">M/N</text>
<circle cx="507.6" cy="751.7" r="10.5" fill="#d9d9d9"/>
<circle cx="506.6" cy="750.5" r="10.5" fill="url(#gc)" stroke="#454545" stroke-width="1.2"/>
<text x="506.6" y="753.1" font-size="7.9" fill="#2b2b3a" stroke="#2b2b3a" stroke-width="0.32" text-anchor="middle">M/N</text>
<circle cx="557.4" cy="751.2" r="10.5" fill="#d9d9d9"/>
<circle cx="556.4" cy="750.0" r="10.5" fill="url(#gc)" stroke="#454545" stroke-width="1.2"/>
<text x="556.4" y="752.6" font-size="7.9" fill="#2b2b3a" stroke="#2b2b3a" stroke-width="0.32" text-anchor="middle">M/N</text>
<circle cx="461.0" cy="741.5" r="10.5" fill="#d9d9d9"/>
<circle cx="460.0" cy="740.3" r="10.5" fill="url(#gc)" stroke="#454545" stroke-width="1.2"/>
<text x="460.0" y="742.9" font-size="7.6" fill="#33282c" stroke="#33282c" stroke-width="0" text-anchor="middle">30</text>
<circle cx="210.0" cy="740.6" r="10.5" fill="#d9d9d9"/>
<circle cx="209.0" cy="739.4" r="10.5" fill="url(#gc)" stroke="#454545" stroke-width="1.2"/>
<text x="209.0" y="742.0" font-size="7.9" fill="#2b2b3a" stroke="#2b2b3a" stroke-width="0.32" text-anchor="middle">M/N</text>
<circle cx="428.2" cy="961.2" r="10.5" fill="#d9d9d9"/>
<circle cx="427.2" cy="960.0" r="10.5" fill="url(#gc)" stroke="#454545" stroke-width="1.2"/>
<text x="427.2" y="962.6" font-size="6.9" fill="#e8202a" stroke="#e8202a" stroke-width="0.32" text-anchor="middle">E/T</text>
<circle cx="312.0" cy="961.2" r="10.5" fill="#d9d9d9"/>
<circle cx="311.0" cy="960.0" r="10.5" fill="url(#gc)" stroke="#454545" stroke-width="1.2"/>
<text x="311.0" y="962.6" font-size="6.9" fill="#2b2b3a" stroke="#2b2b3a" stroke-width="0.32" text-anchor="middle">E/T</text>
<circle cx="283.6" cy="936.5" r="10.5" fill="#d9d9d9"/>
<circle cx="282.6" cy="935.3" r="10.5" fill="url(#gc)" stroke="#454545" stroke-width="1.2"/>
<text x="282.6" y="937.9" font-size="7.6" fill="#33282c" stroke="#33282c" stroke-width="0" text-anchor="middle">30</text>
<circle cx="368.3" cy="990.3" r="10.5" fill="#d9d9d9"/>
<circle cx="367.3" cy="989.1" r="10.5" fill="url(#gc)" stroke="#454545" stroke-width="1.2"/>
<text x="367.3" y="991.7" font-size="7.9" fill="#2b2b3a" stroke="#2b2b3a" stroke-width="0.32" text-anchor="middle">M/N</text>
<circle cx="428.2" cy="1029.2" r="10.5" fill="#d9d9d9"/>
<circle cx="427.2" cy="1028.0" r="10.5" fill="url(#gc)" stroke="#454545" stroke-width="1.2"/>
<text x="427.2" y="1030.5" font-size="6.9" fill="#e8202a" stroke="#e8202a" stroke-width="0.32" text-anchor="middle">E/T</text>
<circle cx="306.8" cy="1029.2" r="10.5" fill="#d9d9d9"/>
<circle cx="305.8" cy="1028.0" r="10.5" fill="url(#gc)" stroke="#454545" stroke-width="1.2"/>
<text x="305.8" y="1030.5" font-size="6.9" fill="#2b2b3a" stroke="#2b2b3a" stroke-width="0.32" text-anchor="middle">E/T</text>
<circle cx="283.6" cy="1008.6" r="10.5" fill="#d9d9d9"/>
<circle cx="282.6" cy="1007.4" r="10.5" fill="url(#gc)" stroke="#454545" stroke-width="1.2"/>
<text x="282.6" y="1010.0" font-size="7.6" fill="#33282c" stroke="#33282c" stroke-width="0" text-anchor="middle">30</text>
<circle cx="368.6" cy="1058.2" r="10.5" fill="#d9d9d9"/>
<circle cx="367.6" cy="1057.0" r="10.5" fill="url(#gc)" stroke="#454545" stroke-width="1.2"/>
<text x="367.6" y="1059.6" font-size="7.9" fill="#2b2b3a" stroke="#2b2b3a" stroke-width="0.32" text-anchor="middle">M/N</text>
<circle cx="647.6" cy="833.6" r="10.5" fill="#d9d9d9"/>
<circle cx="646.6" cy="832.4" r="10.5" fill="url(#gc)" stroke="#454545" stroke-width="1.2"/>
<text x="646.6" y="835.0" font-size="6.3" fill="#3a3236" stroke="#3a3236" stroke-width="0.32" text-anchor="middle">30</text>
<circle cx="397.9" cy="868.2" r="10.5" fill="#d9d9d9"/>
<circle cx="396.9" cy="867.0" r="10.5" fill="url(#gc)" stroke="#454545" stroke-width="1.2"/>
<text x="396.9" y="869.6" font-size="6.9" fill="#2b2b3a" stroke="#2b2b3a" stroke-width="0.32" text-anchor="middle">E/T</text>
<circle cx="432.0" cy="887.5" r="10.5" fill="#d9d9d9"/>
<circle cx="431.0" cy="886.3" r="10.5" fill="url(#gc)" stroke="#454545" stroke-width="1.2"/>
<text x="431.0" y="888.9" font-size="6.9" fill="#2b2b3a" stroke="#2b2b3a" stroke-width="0.32" text-anchor="middle">E/T</text>
<circle cx="344.3" cy="905.8" r="10.5" fill="#d9d9d9"/>
<circle cx="343.3" cy="904.6" r="10.5" fill="url(#gc)" stroke="#454545" stroke-width="1.2"/>
<text x="343.3" y="907.2" font-size="7.6" fill="#33282c" stroke="#33282c" stroke-width="0" text-anchor="middle">30</text>
<circle cx="507.5" cy="924.8" r="10.5" fill="#d9d9d9"/>
<circle cx="506.5" cy="923.6" r="10.5" fill="url(#gc)" stroke="#454545" stroke-width="1.2"/>
<text x="506.5" y="926.2" font-size="7.9" fill="#2b2b3a" stroke="#2b2b3a" stroke-width="0.32" text-anchor="middle">M/N</text>
<circle cx="507.5" cy="994.9" r="10.5" fill="#d9d9d9"/>
<circle cx="506.5" cy="993.7" r="10.5" fill="url(#gc)" stroke="#454545" stroke-width="1.2"/>
<text x="506.5" y="996.3" font-size="7.9" fill="#2b2b3a" stroke="#2b2b3a" stroke-width="0.32" text-anchor="middle">M/N</text>
<circle cx="557.4" cy="994.9" r="10.5" fill="#d9d9d9"/>
<circle cx="556.4" cy="993.7" r="10.5" fill="url(#gc)" stroke="#454545" stroke-width="1.2"/>
<text x="556.4" y="996.3" font-size="7.9" fill="#2b2b3a" stroke="#2b2b3a" stroke-width="0.32" text-anchor="middle">M/N</text>
<circle cx="461.1" cy="984.5" r="10.5" fill="#d9d9d9"/>
<circle cx="460.1" cy="983.3" r="10.5" fill="url(#gc)" stroke="#454545" stroke-width="1.2"/>
<text x="460.1" y="985.9" font-size="7.6" fill="#33282c" stroke="#33282c" stroke-width="0" text-anchor="middle">30</text>
<circle cx="210.0" cy="983.3" r="10.5" fill="#d9d9d9"/>
<circle cx="209.0" cy="982.1" r="10.5" fill="url(#gc)" stroke="#454545" stroke-width="1.2"/>
<text x="209.0" y="984.7" font-size="7.9" fill="#2b2b3a" stroke="#2b2b3a" stroke-width="0.32" text-anchor="middle">M/N</text>
<text x="691.5" y="200.8" font-size="9.35" font-weight="bold" fill="#222" text-anchor="middle">Go to current setting &#8211; 0 in</text>
<text x="691.5" y="213.6" font-size="9.35" font-weight="bold" fill="#222" text-anchor="middle">this example</text>
<text x="611.8" y="640.8" font-size="9.15" font-weight="bold" fill="#222" text-anchor="middle">Go to current setting &#8211; OFF in</text>
<text x="611.8" y="653.6" font-size="9.15" font-weight="bold" fill="#222" text-anchor="middle">this example</text>
<text x="611.8" y="882.4" font-size="9.15" font-weight="bold" fill="#222" text-anchor="middle">Go to current setting &#8211; OFF in</text>
<text x="611.8" y="895.0" font-size="9.15" font-weight="bold" fill="#222" text-anchor="middle">this example</text>

<polygon points="0,1134.3 835,1134.3 853.3,1183.6 0,1183.6" fill="#0a58a9"/>
<rect x="0" y="1190.2" width="950" height="39" fill="#999a9c"/>
<g fill="none" stroke="#fff" stroke-width="1.35">
<circle cx="25.8" cy="1157.7" r="9.6"/>
<ellipse cx="25.8" cy="1157.7" rx="4.8" ry="9.6"/>
<line x1="25.8" y1="1148.1" x2="25.8" y2="1167.3"/>
<line x1="16.2" y1="1157.7" x2="35.4" y2="1157.7"/>
<path d="M17.6,1152.7 H34 M17.6,1162.7 H34"/>
</g>
<path d="M219.6,1146.6 l3.6,-0.6 l1.7,6.2 l-2.6,1.6 c0.6,3.6 2.4,6.6 4.8,8.8 l2.6,-1.6 l3.3,4.2 l-2.2,2.6 c-1.2,1 -3,0.8 -4.6,-0.2 c-5.2,-3.6 -8.4,-9.4 -8.8,-16.4 c-0.1,-2.2 0.6,-4 2.2,-4.6z" fill="#fff"/>
<g>
<rect x="398.5" y="1150.8" width="18.8" height="14.5" rx="0.8" fill="#fff"/>
<path d="M399.2,1151.9 L407.9,1158.4 L416.6,1151.9" fill="none" stroke="#0a58a9" stroke-width="1.2"/>
</g>
<path d="M612.7,1146.2 c-4.3,0 -7.5,3.3 -7.5,7.5 c0,4.8 4.6,9.2 7.5,13.3 c2.9,-4.1 7.5,-8.5 7.5,-13.3 c0,-4.2 -3.2,-7.5 -7.5,-7.5z M612.7,1151.2 a2.4,2.4 0 1 1 0,4.8 a2.4,2.4 0 1 1 0,-4.8z" fill="#fff" fill-rule="evenodd"/>
<g font-family="'Liberation Serif', serif" font-size="16.9" fill="#fff" stroke="#fff" stroke-width="0.45">
<text x="46.2" y="1162.7" textLength="136.2" lengthAdjust="spacingAndGlyphs">www.macurco.com</text>
<text x="244.2" y="1162.7" textLength="105.6" lengthAdjust="spacingAndGlyphs">1-877-367-7891</text>
<text x="433.8" y="1162.7" textLength="133.7" lengthAdjust="spacingAndGlyphs">info@macurco.com</text>
<text x="637.2" y="1151.6" textLength="105.2" lengthAdjust="spacingAndGlyphs">1504 W 51st St.</text>
<text x="637.2" y="1173.2" textLength="145.3" lengthAdjust="spacingAndGlyphs">Sioux Falls, SD 57105</text>
</g>

</svg>
</body></html>
